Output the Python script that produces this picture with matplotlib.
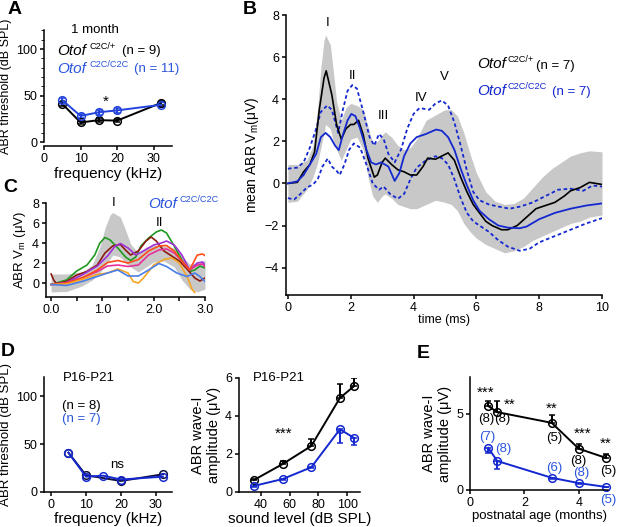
import matplotlib
matplotlib.use('Agg')
import matplotlib.pyplot as plt
from matplotlib.ticker import MultipleLocator

plt.rcParams['font.family'] = ['Liberation Sans', 'DejaVu Sans']
plt.rcParams['mathtext.fontset'] = 'custom'
plt.rcParams['mathtext.rm'] = 'Liberation Sans'
plt.rcParams['mathtext.it'] = 'Liberation Sans:italic'
plt.rcParams['mathtext.sf'] = 'Liberation Sans'
plt.rcParams['font.size'] = 9
plt.rcParams['xtick.labelsize'] = 9
plt.rcParams['ytick.labelsize'] = 9
plt.rcParams['axes.linewidth'] = 1.1
plt.rcParams['xtick.major.width'] = 1.1
plt.rcParams['ytick.major.width'] = 1.1
plt.rcParams['xtick.major.size'] = 3
plt.rcParams['ytick.major.size'] = 3
plt.rcParams['xtick.major.pad'] = 2
plt.rcParams['ytick.major.pad'] = 2

BLUE = '#1428d0'
TBLUE = '#2a55dd'

# ---- panel A: thresholds at 1 month ----
freq_a = [5, 10, 15, 20, 32]
thr_het_a = [41, 21, 23.5, 23, 42]
thr_het_a_err = [2, 2, 2, 2, 2]
thr_hom_a = [45, 28, 32, 34, 40]
thr_hom_a_err = [2.5, 2.5, 2.5, 2.5, 2.5]

# ---- panel B: mean ABR traces ----
t_het = [0, 0.3, 0.5, 0.7, 0.85, 1.0, 1.15, 1.22, 1.4, 1.55, 1.7, 1.85, 2.0, 2.1, 2.25, 2.4,
         2.55, 2.75, 2.85, 3.0, 3.1, 3.3, 3.5, 3.7, 3.9, 4.1, 4.3, 4.45, 4.7, 4.9, 5.1, 5.3,
         5.5, 5.7, 5.9, 6.1, 6.3, 6.5, 6.8, 7.0, 7.3, 7.6, 7.9, 8.2, 8.5, 8.8, 9.0, 9.3, 9.6,
         9.8, 10]
v_het = [0, 0.05, 0.55, 0.9, 1.5, 3.5, 5.0, 5.35, 4.2, 2.8, 2.1, 2.6, 2.8, 2.8, 3.0, 2.3,
         1.2, 0.3, 0.4, 1.0, 1.2, 0.9, 0.65, 0.55, 0.4, 0.4, 0.8, 1.2, 1.15, 1.3, 1.45, 1.1,
         0.3, -0.4, -1.0, -1.4, -1.8, -2.0, -2.2, -2.2, -2.0, -1.6, -1.2, -1.05, -0.9, -0.6,
         -0.35, -0.2, 0.05, 0.0, -0.05]

t_hom = [0, 0.3, 0.5, 0.7, 0.9, 1.05, 1.2, 1.35, 1.5, 1.62, 1.75, 1.9, 2.02, 2.15, 2.3, 2.5,
         2.65, 2.8, 2.97, 3.2, 3.4, 3.55, 3.7, 3.9, 4.1, 4.4, 4.72, 4.9, 5.1, 5.3, 5.5, 5.7,
         5.9, 6.1, 6.4, 6.7, 7.0, 7.38, 7.6, 8.0, 8.5, 9.0, 9.5, 10]
v_hom = [0, 0.1, 0.4, 0.9, 1.4, 2.2, 2.4, 2.2, 1.8, 1.58, 2.3, 3.0, 3.3, 3.2, 2.6, 1.6,
         1.0, 0.9, 1.0, 0.8, 0.12, 0.5, 1.3, 1.9, 2.2, 2.35, 2.56, 2.5, 2.2, 1.6, 0.7, -0.1,
         -0.8, -1.3, -1.7, -2.0, -2.1, -2.13, -2.05, -1.7, -1.4, -1.2, -1.05, -0.95]

t_hom_hi = [0, 0.3, 0.5, 0.7, 0.9, 1.05, 1.25, 1.4, 1.6, 1.75, 1.9, 2.05, 2.2, 2.4, 2.6, 2.75,
            2.9, 3.05, 3.2, 3.4, 3.6, 3.8, 4.0, 4.19, 4.5, 4.7, 4.9, 5.1, 5.3, 5.5, 5.7, 5.9,
            6.1, 6.4, 6.7, 7.06, 7.4, 7.8, 8.2, 8.6, 9.0, 9.4, 9.7, 10]
v_hom_hi = [0.7, 0.75, 1.0, 1.7, 2.6, 3.4, 3.7, 3.5, 2.4, 3.5, 4.4, 4.67, 4.5, 3.4, 2.2, 1.8,
            2.35, 2.1, 1.4, 1.0, 1.6, 2.6, 3.3, 3.58, 3.5, 3.8, 3.94, 3.7, 2.9, 1.8, 0.6, -0.4,
            -0.8, -1.0, -1.1, -1.2, -1.1, -0.9, -0.6, -0.3, -0.25, -0.35, -0.1, -0.15]

t_hom_lo = [0, 0.2, 0.4, 0.6, 0.8, 0.95, 1.1, 1.27, 1.4, 1.55, 1.65, 1.8, 1.95, 2.1, 2.3, 2.5,
            2.7, 2.9, 3.05, 3.25, 3.5, 3.7, 3.9, 4.1, 4.4, 4.7, 4.9, 5.1, 5.3, 5.5, 5.7, 5.9,
            6.1, 6.4, 6.7, 7.0, 7.38, 7.7, 8.0, 8.5, 9.0, 9.5, 10]
v_hom_lo = [-0.7, -0.76, -0.5, -0.2, -0.05, 0.2, 0.8, 1.18, 0.8, 0.6, 0.4, 0.9, 1.6, 1.9, 1.7,
            0.9, 0.0, -0.3, -0.15, -0.5, -0.73, -0.5, 0.2, 0.75, 1.1, 1.29, 1.2, 0.9, 0.2, -0.7,
            -1.4, -1.8, -2.0, -2.3, -2.7, -3.0, -3.2, -3.1, -2.8, -2.5, -2.2, -1.9, -1.65]

# grey band: control SD
band_t = [0, 0.3, 0.6, 0.8, 0.95, 1.05, 1.15, 1.2, 1.35, 1.45, 1.55, 1.7, 1.85, 2.0, 2.2, 2.4,
          2.55, 2.7, 2.85, 3.0, 3.1, 3.3, 3.5, 3.7, 3.9, 4.1, 4.4, 4.7, 5.0, 5.2, 5.4, 5.6,
          5.8, 6.0, 6.3, 6.6, 6.9, 7.2, 7.5, 7.8, 8.1, 8.4, 8.7, 9.0, 9.3, 9.6, 10]
band_hi = [0.9, 0.9, 1.1, 1.8, 3.6, 5.5, 6.8, 7.05, 6.6, 5.3, 3.9, 3.0, 3.6, 3.8, 3.7, 3.5,
           2.7, 1.9, 2.0, 2.3, 2.45, 2.2, 1.8, 1.6, 1.7, 2.1, 3.0, 3.25, 3.5, 3.5, 3.2, 2.4,
           1.4, 0.5, -0.4, -0.85, -1.0, -0.95, -0.7, -0.2, 0.3, 0.7, 1.0, 1.3, 1.45, 1.55, 1.5]
band_lo = [-0.9, -0.85, -0.3, 0.3, 1.0, 1.7, 2.4, 2.8, 2.6, 2.0, 1.6, 1.1, 1.6, 2.1, 2.2, 1.6,
           0.3, -0.6, -0.9, -0.6, -0.5, -0.7, -1.0, -1.1, -1.2, -1.2, -1.0, -0.8, -0.9, -1.0,
           -1.3, -1.9, -2.3, -2.6, -2.9, -3.1, -3.3, -3.2, -3.0, -2.7, -2.5, -2.3, -2.1, -1.9,
           -1.8, -1.6, -1.5]

wave_names = ['I', 'II', 'III', 'IV', 'V']
wave_t = [1.27, 2.07, 3.05, 4.25, 4.99]
wave_v = [7.6, 5.1, 3.2, 4.05, 5.05]

# ---- panel C: individual mutant traces ----
c_traces = {
    '#1f9a1f': ([0, 0.3, 0.5, 0.7, 0.85, 0.95, 1.05, 1.15, 1.3, 1.45, 1.55, 1.65, 1.75, 1.9,
                 2.05, 2.15, 2.25, 2.4, 2.55, 2.7, 2.8, 2.9, 3.0],
                [-0.15, 0.3, 1.2, 1.8, 2.8, 4.0, 4.55, 4.3, 3.5, 2.6, 2.25, 2.6, 3.7, 4.5,
                 5.1, 5.3, 5.0, 3.7, 2.3, 1.15, 1.3, 1.7, 1.5]),
    '#8b1a10': ([0, 0.05, 0.1, 0.3, 0.5, 0.7, 0.9, 1.05, 1.2, 1.35, 1.45, 1.55, 1.7, 1.85,
                 1.95, 2.05, 2.2, 2.35, 2.5, 2.65, 2.8, 2.9, 3.0],
                [0.9, 0.3, -0.05, 0.15, 0.8, 1.15, 1.8, 3.0, 3.7, 3.85, 3.3, 2.8, 3.2, 4.2,
                 4.6, 4.2, 3.2, 2.7, 2.2, 1.4, 0.5, 0.2, 0.5]),
    '#a030d8': ([0, 0.3, 0.6, 0.9, 1.1, 1.25, 1.35, 1.5, 1.65, 1.8, 2.0, 2.15, 2.25, 2.4,
                 2.55, 2.7, 2.85, 2.95, 3.0],
                [-0.15, 0.05, 0.8, 1.7, 2.7, 3.7, 3.95, 3.5, 2.8, 3.2, 3.8, 4.0, 4.2, 3.8,
                 2.8, 1.3, 2.0, 2.1, 1.8]),
    '#e8309a': ([0, 0.3, 0.6, 0.9, 1.1, 1.3, 1.5, 1.7, 1.9, 2.1, 2.25, 2.4, 2.55, 2.7, 2.85,
                 2.95, 3.0],
                [-0.15, 0.0, 0.5, 1.15, 1.7, 1.8, 1.65, 1.8, 2.8, 3.3, 3.4, 3.0, 2.2, 1.3,
                 1.8, 1.9, 1.65]),
    '#ff4a1a': ([0, 0.3, 0.6, 0.9, 1.1, 1.3, 1.5, 1.7, 1.9, 2.1, 2.25, 2.4, 2.55, 2.7, 2.85,
                 2.95, 3.0],
                [-0.15, 0.0, 0.5, 1.3, 2.05, 2.25, 2.0, 2.35, 3.2, 3.7, 3.75, 3.2, 2.2, 1.3,
                 2.8, 2.9, 2.75]),
    '#f5a623': ([0, 0.3, 0.6, 0.9, 1.1, 1.3, 1.5, 1.6, 1.7, 1.8, 2.0, 2.2, 2.35, 2.5, 2.65,
                 2.75, 2.8],
                [-0.15, -0.1, 0.35, 0.85, 1.0, 1.4, 1.0, 0.15, 0.0, 0.5, 1.8, 2.35, 2.5, 2.0,
                 0.65, -0.65, -0.95]),
    '#4a7ee8': ([0, 0.3, 0.6, 0.9, 1.1, 1.3, 1.5, 1.7, 1.9, 2.1, 2.25, 2.45, 2.65, 2.8, 2.9,
                 3.0],
                [-0.15, -0.25, 0.15, 0.65, 1.0, 1.3, 0.7, 0.7, 1.3, 1.95, 1.65, 1.0, 0.65,
                 1.0, 0.65, 0.15]),
}

# ---- panel D: P16-P21 ----
freq_d_het = [5, 10, 20, 32]
thr_d_het = [41, 17.5, 11.5, 18.5]
freq_d_hom = [5, 10, 15, 20, 32]
thr_d_hom = [41, 16, 17, 13, 16]

level = [35, 55, 75, 95, 105]
amp_het = [0.63, 1.47, 2.42, 4.95, 5.58]
amp_het_up = [0.08, 0.16, 0.38, 0.73, 0.42]
amp_hom = [0.32, 0.68, 1.3, 3.3, 2.84]
amp_hom_dn = [0.04, 0.05, 0.06, 0.7, 0.37]

# ---- panel E: wave-I vs age ----
age = [0.67, 1, 3, 4, 5]
age_het = [5.5, 5.1, 4.4, 2.7, 2.1]
age_het_up = [0.35, 0.75, 0.5, 0.3, 0.25]
age_hom = [2.76, 1.9, 0.8, 0.45, 0.2]
age_hom_dn = [0.35, 0.5, 0.05, 0.04, 0.03]
stars = ['***', '**', '**', '***', '**']
n_het = ['(8)', '(8)', '(5)', '(8)', '(5)']
n_hom = ['(7)', '(8)', '(6)', '(8)', '(5)']

W, H = 617, 527
fig = plt.figure(figsize=(W / 100, H / 100), dpi=100)


def add_ax(l, t, r, b):
    ax = fig.add_axes([l / W, 1 - b / H, (r - l) / W, (b - t) / H])
    ax.spines['top'].set_visible(False)
    ax.spines['right'].set_visible(False)
    ax.patch.set_alpha(0)
    return ax


def ftext(x, y, s, **kw):
    fig.text(x / W, 1 - y / H, s, **kw)


def geno(x, y, sup, xs, color='black'):
    # italic gene name plus a small superscript allele, placed in pixels
    ftext(x, y, 'Otof', style='italic', fontsize=11, va='center', color=color)
    ftext(xs, y - 4.5, sup, fontsize=6.6, va='center', color=color)


mk = dict(marker='o', mfc='none', ms=5.5, mew=1.1, lw=1.4)

# A
ax = add_ax(44, 30.4, 172, 142)
ax.errorbar(freq_a, thr_het_a, yerr=thr_het_a_err, color='black', capsize=2, **mk)
ax.errorbar(freq_a, thr_hom_a, yerr=thr_hom_a_err, color='#2244dd', capsize=2, **mk)
ax.set_xlim(0, 35)
ax.set_ylim(0, 120)
ax.set_xticks([0, 10, 20, 30])
ax.set_yticks([0, 50, 100])
ax.yaxis.set_minor_locator(MultipleLocator(10))
ax.tick_params(which='minor', length=2)
ax.spines['bottom'].set_position(('outward', 3))
ax.set_xlabel('frequency (kHz)', fontsize=11, labelpad=1)
ax.set_ylabel('ABR threshold (dB SPL)', fontsize=9, labelpad=3)
ax.text(16.8, 43, '*', ha='center', va='center', fontsize=11)
ftext(95, 30, '1 month', ha='center', va='center', fontsize=9.5)
geno(57, 51, 'C2C/+', 89)
ftext(122, 51, '(n = 9)', va='center', fontsize=9.5)
geno(57, 69, 'C2C/C2C', 89, color=TBLUE)
ftext(134, 69, '(n = 11)', va='center', fontsize=9.5, color=TBLUE)

# B
ax = add_ax(286, 15, 602, 295)
ax.fill_between(band_t, band_lo, band_hi, color='#c8c8c8', lw=0)
ax.plot(t_hom_hi, v_hom_hi, color=BLUE, ls=(0, (2, 1.5)), lw=1.3)
ax.plot(t_hom_lo, v_hom_lo, color=BLUE, ls=(0, (2, 1.5)), lw=1.3)
ax.plot(t_het, v_het, color='black', lw=1.2)
ax.plot(t_hom, v_hom, color=BLUE, lw=1.3)
for name, tx, vy in zip(wave_names, wave_t, wave_v):
    ax.text(tx, vy, name, ha='center', va='center', fontsize=9.5)
ax.set_xlim(-0.06, 10)
ax.set_ylim(-5.3, 8)
ax.set_xticks([0, 2, 4, 6, 8, 10])
ax.set_yticks([-4, -2, 0, 2, 4, 6, 8])
ax.set_xlabel('time (ms)', fontsize=9, labelpad=0)
ax.set_ylabel(r'mean ABR V$_{\mathrm{m}}$(μV)', fontsize=10, labelpad=3)
geno(477, 64, 'C2C/+', 507)
ftext(536, 66, '(n = 7)', va='center', fontsize=9.5)
geno(477, 91, 'C2C/C2C', 507, color=BLUE)
ftext(552, 92, '(n = 7)', va='center', fontsize=9.5, color=BLUE)

# C
ax = add_ax(46, 203, 205, 297)
sel = [i for i, t in enumerate(band_t) if t <= 3.0]
ax.fill_between([band_t[i] for i in sel], [band_lo[i] for i in sel],
                [band_hi[i] for i in sel], color='#c8c8c8', lw=0)
for col, (tt, vv) in c_traces.items():
    ax.plot(tt, vv, color=col, lw=1.2)
ax.text(1.21, 8.0, 'I', ha='center', va='center', fontsize=9.5)
ax.text(2.12, 6.0, 'II', ha='center', va='center', fontsize=9.5)
geno(148, 204, 'C2C/C2C', 179, color=TBLUE)
ax.set_xlim(-0.1, 3.0)
ax.set_ylim(-1.4, 8)
ax.set_xticks([0, 0.5, 1, 1.5, 2, 2.5, 3])
ax.set_xticklabels(['0.0', '', '1.0', '', '2.0', '', '3.0'])
ax.set_yticks([0, 2, 4, 6, 8])
ax.set_ylabel(r'ABR V$_{\mathrm{m}}$ (μV)', fontsize=9.5, labelpad=3)

# D left
ax = add_ax(44, 377, 172, 492)
ax.plot(freq_d_het, thr_d_het, color='#101040', **mk)
ax.plot(freq_d_hom, thr_d_hom, color=BLUE, **mk)
ax.set_xlim(-2, 34.6)
ax.set_ylim(0, 120)
ax.set_xticks([0, 10, 20, 30])
ax.set_yticks([0, 50, 100])
ax.set_xlabel('frequency (kHz)', fontsize=11, labelpad=1)
ax.set_ylabel('ABR threshold (dB SPL)', fontsize=9.5, labelpad=3)
ax.text(18.9, 28, 'ns', ha='center', va='center', fontsize=9.5)
ftext(63, 378, 'P16-P21', va='center', fontsize=9.5)
ftext(62, 406, '(n = 8)', va='center', fontsize=9.5)
ftext(62, 419, '(n = 7)', va='center', fontsize=9.5, color=TBLUE)

# D right
ax = add_ax(239, 378, 360, 492)
ax.errorbar(level, amp_het, yerr=[[0] * 5, amp_het_up], color='black', capsize=2.5, **mk)
ax.errorbar(level, amp_hom, yerr=[amp_hom_dn, [0] * 5], color=BLUE, capsize=2.5, **mk)
ax.set_xlim(24.6, 109)
ax.set_ylim(0, 6)
ax.set_xticks([40, 60, 80, 100])
ax.set_yticks([0, 2, 4, 6])
ax.set_xlabel('sound level (dB SPL)', fontsize=11, labelpad=1)
ax.set_ylabel('ABR wave-I\namplitude (μV)', fontsize=10.5, labelpad=3)
ax.text(55.4, 3.05, '***', ha='center', va='center', fontsize=11)
ftext(253, 378, 'P16-P21', va='center', fontsize=9.5)

# E
ax = add_ax(470, 377, 608, 490)
ax.errorbar(age, age_het, yerr=[[0] * 5, age_het_up], color='black', capsize=2.5,
            clip_on=False, **mk)
ax.errorbar(age, age_hom, yerr=[age_hom_dn, [0] * 5], color=BLUE, capsize=2.5,
            clip_on=False, **mk)
star_xy = [(0.59, 6.35), (1.45, 5.6), (3.0, 5.3), (4.15, 3.65), (5.0, 3.0)]
nhet_xy = [(0.59, 4.65), (1.18, 4.65), (3.09, 3.4), (3.97, 1.9), (5.07, 1.25)]
nhom_xy = [(0.62, 3.5), (1.22, 2.7), (3.09, 1.45), (4.1, 1.1), (5.07, -0.65)]
for s, (x, y) in zip(stars, star_xy):
    ax.text(x, y, s, ha='center', va='center', fontsize=11, clip_on=False)
for s, (x, y) in zip(n_het, nhet_xy):
    ax.text(x, y, s, ha='center', va='center', fontsize=9.5, clip_on=False)
for s, (x, y) in zip(n_hom, nhom_xy):
    ax.text(x, y, s, ha='center', va='center', fontsize=9.5, color=TBLUE, clip_on=False)
ax.set_xlim(0, 5.07)
ax.set_ylim(0, 7.4)
ax.set_xticks([0, 2, 4])
ax.set_yticks([0, 5])
ax.set_xlabel('postnatal age (months)', fontsize=9.5, labelpad=1)
ax.set_ylabel('ABR wave-I\namplitude (μV)', fontsize=10.5, labelpad=3)

# panel letters
for lt, x, y in [('A', 8, 10), ('B', 243, 9), ('C', 3, 187), ('D', 1, 352), ('E', 417, 353)]:
    ftext(x, y, lt, fontsize=14, fontweight='bold', va='center')

fig.savefig('out.png', dpi=100)
